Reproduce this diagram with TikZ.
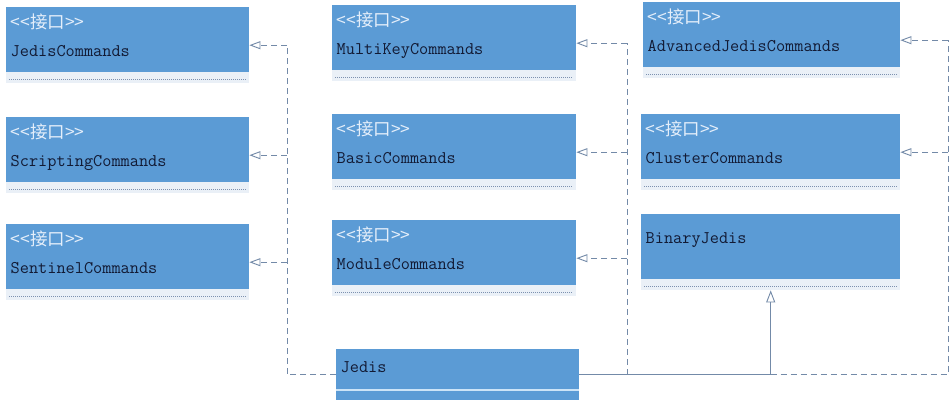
\documentclass[tikz,border=0pt]{standalone}
\usepackage{fontspec}
\newfontfamily\cjk{Noto Sans CJK SC}
\usetikzlibrary{arrows.meta, positioning, calc}
\definecolor{umlblue}{RGB}{91,155,213}
\definecolor{umlstrip}{RGB}{234,240,247}
\definecolor{umldots}{RGB}{125,145,175}
\definecolor{umlline}{RGB}{115,138,168}
\definecolor{umlink}{RGB}{18,26,52}
\definecolor{umlstereo}{RGB}{228,238,250}
\definecolor{umlsep}{RGB}{205,228,247}

\begin{document}
\begin{tikzpicture}[x=1pt, y=1pt,
  iface/.style={anchor=north west, minimum height=76pt, inner sep=0pt,
                fill=umlstrip,
                path picture={
                  \fill[umlblue] (path picture bounding box.north west)
                    rectangle ([yshift=-65pt]path picture bounding box.north east);
                  \draw[umldots, line width=0.6pt, dash pattern=on 1pt off 1pt]
                    ([shift={(3pt,-72pt)}]path picture bounding box.north west)
                    -- ([shift={(-3pt,-72pt)}]path picture bounding box.north east);
                }},
  klass/.style={anchor=north west, minimum height=51pt, inner sep=0pt,
                fill=umlblue,
                path picture={
                  \draw[umlsep, line width=2pt]
                    ([yshift=10pt]path picture bounding box.south west)
                    -- ([yshift=10pt]path picture bounding box.south east);
                }},
  stereo/.style={anchor=base west, inner sep=0pt, text=umlstereo,
                 font=\cjk\fontsize{17.5}{20}\selectfont},
  cname/.style={anchor=base west, inner sep=0pt, text=umlink,
                font=\ttfamily\fontsize{17.8}{20}\selectfont},
  conn/.style={umlline, line width=0.9pt},
  realize/.style={conn, dash pattern=on 6pt off 4pt},
  realizes/.style={realize, -{Triangle[open, length=11pt, width=8pt, fill=white]}},
  inherits/.style={conn, -{Triangle[open, length=12pt, width=9pt, fill=white]}},
]
  \useasboundingbox (0,0) rectangle (950,402);

  % interfaces
  \foreach \n/\x/\y/\w/\lbl in {jc/6/395/243/JedisCommands,
      sc/6/285/243/ScriptingCommands, sn/6/178/243/SentinelCommands,
      mk/332/397/244/MultiKeyCommands, bc/332/288/244/BasicCommands,
      md/332/182/244/ModuleCommands, aj/643/400/257/AdvancedJedisCommands,
      cc/641/288/259/ClusterCommands} {
    \node[iface, minimum width=\w pt] (\n) at (\x,\y) {};
    \node[stereo] (\n-st) at ([shift={(4.5pt,-21.5pt)}]\n.north west) {<<接口>>};
    \node[cname] (\n-nm) at ([shift={(4.5pt,-49.5pt)}]\n.north west) {\lbl};
  }

  % classes
  \node[iface, minimum width=259pt] (bj) at (641,188) {};
  \node[cname] (bj-nm) at ([shift={(4.5pt,-29pt)}]bj.north west) {BinaryJedis};
  \node[klass, minimum width=243pt] (jedis) at (336,53) {};
  \node[cname] (jedis-nm) at ([shift={(4.5pt,-23pt)}]jedis.north west) {Jedis};

  % realization buses
  \coordinate (busL) at (287,0);
  \coordinate (busM) at (627,0);
  \coordinate (busR) at (948,0);
  \draw[realize] (jedis.west) -| (busL |- jc.east);
  \foreach \n in {jc, sc, sn} {
    \draw[realizes] (busL |- \n.east) -- (\n.east);
  }
  \draw[realize] (busM |- jedis.east) -- (busM |- mk.east);
  \foreach \n in {mk, bc, md} {
    \draw[realizes] (busM |- \n.east) -- (\n.east);
  }
  \draw[realize] (bj.south |- jedis.east) -| (busR |- aj.east);
  \foreach \n in {aj, cc} {
    \draw[realizes] (busR |- \n.east) -- (\n.east);
  }

  % inheritance
  \draw[inherits] (jedis.east) -| (bj.south);
\end{tikzpicture}
\end{document}
